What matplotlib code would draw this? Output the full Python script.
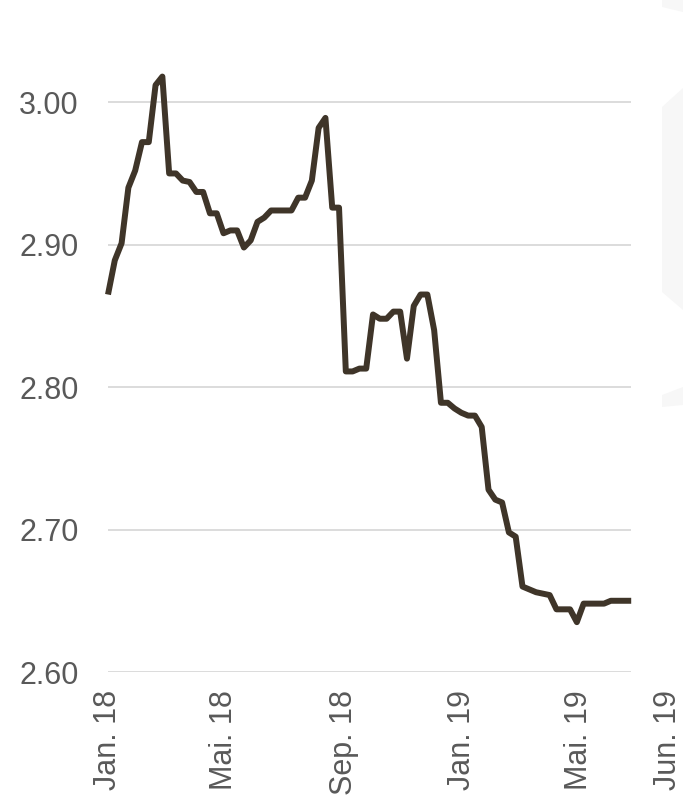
import matplotlib
matplotlib.use("Agg")
import matplotlib.pyplot as plt
import matplotlib.dates as mdates
from matplotlib.patches import Polygon
import pandas as pd

plt.rcParams['font.family'] = ['Liberation Sans', 'DejaVu Sans']

# wöchentliche Werte ab Jan. 2018
start = "2018-01-01"
values = [
    2.865, 2.889, 2.901, 2.940, 2.952, 2.972, 2.972, 3.012, 3.018, 2.950,
    2.950, 2.945, 2.944, 2.937, 2.937, 2.922, 2.922, 2.908, 2.910, 2.910,
    2.898, 2.903, 2.916, 2.919, 2.924, 2.924, 2.924, 2.924, 2.933, 2.933,
    2.945, 2.982, 2.989, 2.926, 2.926, 2.811, 2.811, 2.813, 2.813, 2.851,
    2.848, 2.848, 2.853, 2.853, 2.820, 2.857, 2.865, 2.865, 2.840, 2.789,
    2.789, 2.785, 2.782, 2.780, 2.780, 2.772, 2.728, 2.721, 2.719, 2.698,
    2.695, 2.660, 2.658, 2.656, 2.655, 2.654, 2.644, 2.644, 2.644, 2.635,
    2.648, 2.648, 2.648, 2.648, 2.650, 2.650, 2.650, 2.650,
]
dates = pd.date_range(start, periods=len(values), freq="7D")

y_ticks = [2.60, 2.70, 2.80, 2.90, 3.00]
x_tick_dates = pd.to_datetime(["2018-01-01", "2018-05-01", "2018-09-01",
                               "2019-01-01", "2019-05-01", "2019-08-01"])
x_tick_labels = ["Jan. 18", "Mai. 18", "Sep. 18", "Jan. 19", "Mai. 19", "Jun. 19"]

LINE_COLOR = "#3f3529"
GRID_COLOR = "#d9d9d9"
TEXT_COLOR = "#595959"

fig = plt.figure(figsize=(6.83, 8.01), dpi=100)

# blasses Wasserzeichen rechts
for pts in ([(662, 0), (683, 0), (683, 12), (662, 7)],
            [(662, 107), (683, 88), (683, 310), (662, 292)],
            [(662, 395), (683, 387), (683, 405), (662, 407)]):
    fig.patches.append(Polygon([(x / 683, 1 - y / 801) for x, y in pts], closed=True,
                               transform=fig.transFigure, facecolor="#f7f7f7",
                               edgecolor="none", zorder=0))

ax = fig.add_axes([108 / 683, 129 / 801, 563 / 683, 641 / 801])
ax.patch.set_alpha(0)

x0 = mdates.date2num(pd.Timestamp("2018-01-01"))
ax.set_xlim(x0, x0 + 580)
ax.set_ylim(2.60, 3.05)

ax.hlines(y_ticks, dates[0], dates[-1], color=GRID_COLOR, lw=1.3, zorder=1)
ax.plot(dates, values, color=LINE_COLOR, lw=4.3, solid_joinstyle="round",
        solid_capstyle="butt", clip_on=False, zorder=3)

ax.set_yticks(y_ticks)
ax.set_yticklabels([f"{v:.2f}" for v in y_ticks])
ax.set_xticks(x_tick_dates)
ax.set_xticklabels(x_tick_labels, rotation=90, va="top", ha="center")

ax.tick_params(axis="y", length=0, pad=21, labelsize=22, labelcolor=TEXT_COLOR)
ax.tick_params(axis="x", length=0, pad=13, labelsize=22, labelcolor=TEXT_COLOR)
for s in ax.spines.values():
    s.set_visible(False)

fig.savefig("out.png", dpi=100)
